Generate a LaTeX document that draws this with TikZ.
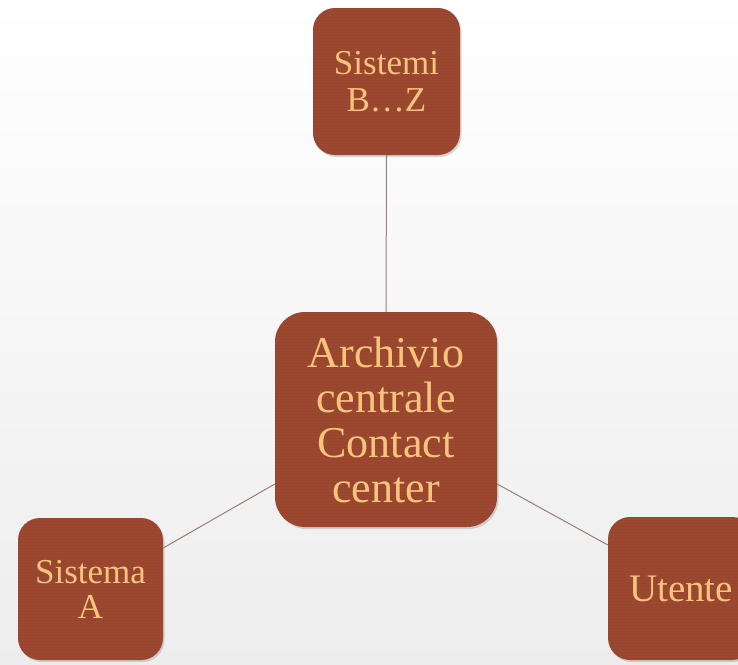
\documentclass[tikz,border=0pt]{standalone}
\usepackage{fontspec}
\setmainfont{Liberation Serif}
\usetikzlibrary{shadows}
\definecolor{boxfill}{HTML}{9C4830}
\definecolor{grain}{HTML}{6E2E1C}
\definecolor{boxtext}{HTML}{F6C47C}
\definecolor{linkcol}{HTML}{9C7F74}
\begin{document}
\begin{tikzpicture}[x=1pt,y=-1pt,
  card/.style={fill=boxfill, rounded corners=22pt, inner sep=0pt,
    drop shadow={shadow xshift=1.5pt, shadow yshift=-2pt, opacity=0.25, fill=black!60},
    text=boxtext, align=center, font=\fontsize{35}{37}\selectfont,
    path picture={
      \foreach \k in {0,...,80}
        \draw[grain, opacity=0.10, line width=0.6pt]
          ([yshift=-3*\k pt]path picture bounding box.north west) --
          ([yshift=-3*\k pt]path picture bounding box.north east);
    }},
  link/.style={draw=linkcol, line width=1pt}]
  % page with a soft grey fade toward the bottom
  \shade[top color=white, bottom color=black!7] (0,0) rectangle (738,664);
  \useasboundingbox (0,0) rectangle (738,664);
  \begin{scope}
  \clip (0,0) rectangle (738,664);
  \coordinate (cleft) at (276,484);
  \coordinate (cright) at (496,484);
  \node[card, minimum width=147pt, minimum height=147pt] (top) at (386.5,81.5) {Sistemi\\B\ldots Z};
  \node[card, minimum width=145pt, minimum height=142pt, font=\fontsize{35}{35}\selectfont] (left) at (90.5,589) {Sistema\\A};
  \node[card, minimum width=146pt, minimum height=143pt, font=\fontsize{39}{40}\selectfont] (right) at (681,588.5) {Utente};
  \node[card, rounded corners=30pt, minimum width=222pt, minimum height=215pt,
    font=\fontsize{44}{45}\selectfont] (core) at (386,419.5) {Archivio\\centrale\\Contact\\center};
  % connectors between the central archive and the outer systems
  \draw[link] (top.south) -- (core.north);
  \draw[link] (core.west |- cleft) -- (left.east |- 0,548);
  \draw[link] (core.east |- cright) -- (right.west |- 0,545);
  \end{scope}
\end{tikzpicture}
\end{document}
